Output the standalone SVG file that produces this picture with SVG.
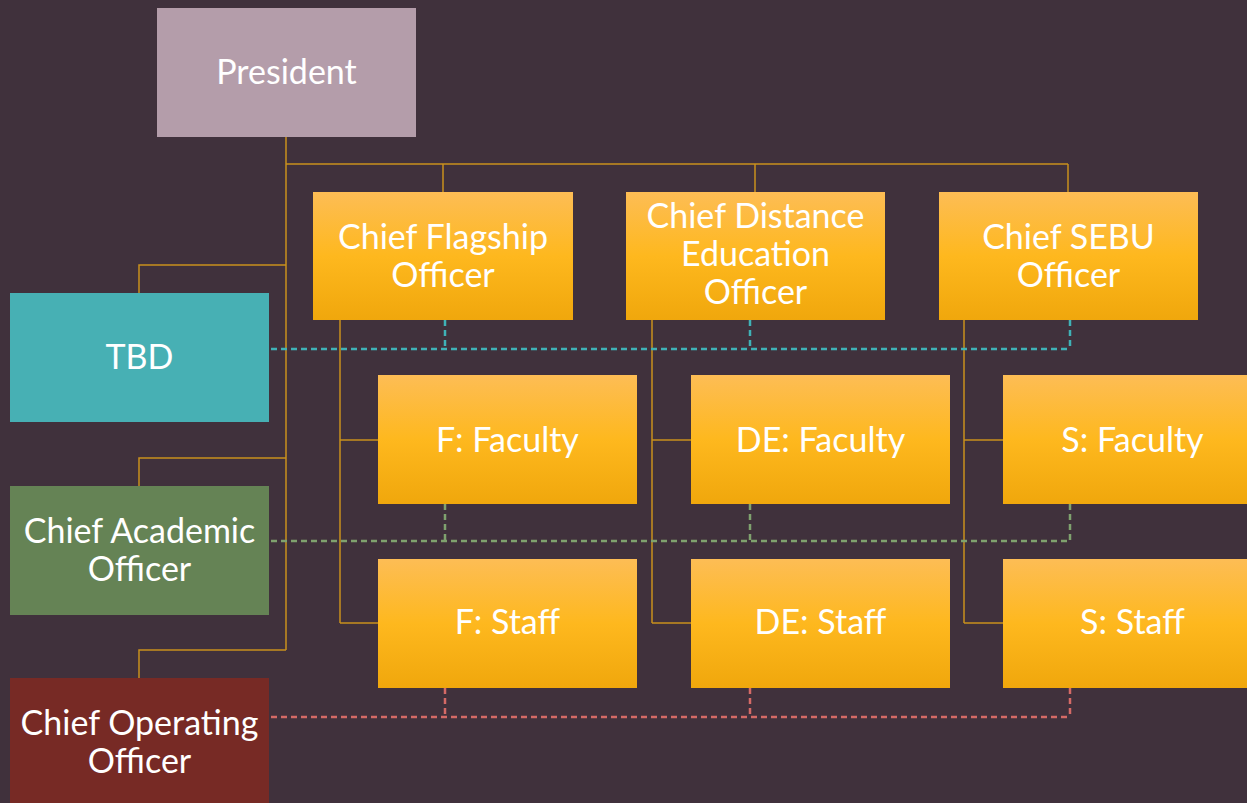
<svg xmlns="http://www.w3.org/2000/svg" width="1247" height="803" viewBox="0 0 1247 803">
  <defs>
    <linearGradient id="gold" x1="0" y1="0" x2="0" y2="1">
      <stop offset="0" stop-color="#FDBD55"/>
      <stop offset="0.5" stop-color="#FEB81E"/>
      <stop offset="1" stop-color="#F0A70C"/>
    </linearGradient>
  </defs>
  <style>
    text { font-family: Lato, "Open Sans", "Liberation Sans", sans-serif; font-size: 34px; fill: #FFFFFF; text-anchor: middle; }
    .solid { fill: none; stroke: #C8901C; stroke-width: 1.5; }
    .dash { fill: none; stroke-width: 2.5; stroke-dasharray: 6 4; }
    .teal { stroke: #3FB2B7; }
    .green { stroke: #7FA26E; }
    .red { stroke: #D46A66; }
    .gold { fill: url(#gold); }
  </style>
  <rect width="1247" height="803" fill="#40313C"/>

  <g id="connectors">
    <!-- reporting lines -->
    <path class="solid" d="M286 137 V650 M286 164 H1068 M443 164 V192 M755 164 V192 M1068 164 V192"/>
    <path class="solid" d="M286 265 H139 V293 M286 458 H139 V486 M286 650 H139 V678"/>
    <path class="solid" d="M340 320 V623 M340 440 H378 M340 623 H378"/>
    <path class="solid" d="M652 320 V623 M652 440 H691 M652 623 H691"/>
    <path class="solid" d="M964 320 V623 M964 440 H1003 M964 623 H1003"/>
    <!-- dotted-line relationships -->
    <path class="dash teal" d="M271 349 H1070 M445 320 V349 M750 320 V349 M1070 320 V349"/>
    <path class="dash green" d="M271 541 H1070 M445 504 V541 M750 504 V541 M1070 504 V541"/>
    <path class="dash red" d="M271 717 H1070 M445 688 V717 M750 688 V717 M1070 688 V717"/>
  </g>

  <g id="president">
    <rect x="157" y="8" width="259" height="129" fill="#B49DAA"/>
    <text x="286.5" y="84">President</text>
  </g>

  <g id="chief-flagship">
    <rect class="gold" x="313" y="192" width="260" height="128"/>
    <text x="443" y="249">Chief Flagship</text>
    <text x="443" y="287">Officer</text>
  </g>
  <g id="chief-distance">
    <rect class="gold" x="626" y="192" width="259" height="128"/>
    <text x="755.5" y="228">Chief Distance</text>
    <text x="755.5" y="266">Education</text>
    <text x="755.5" y="304">Officer</text>
  </g>
  <g id="chief-sebu">
    <rect class="gold" x="939" y="192" width="259" height="128"/>
    <text x="1068.5" y="249">Chief SEBU</text>
    <text x="1068.5" y="287">Officer</text>
  </g>

  <g id="tbd">
    <rect x="10" y="293" width="259" height="129" fill="#47B0B4"/>
    <text x="139.5" y="369">TBD</text>
  </g>
  <g id="chief-academic">
    <rect x="10" y="486" width="259" height="129" fill="#658355"/>
    <text x="139.5" y="543">Chief Academic</text>
    <text x="139.5" y="581">Officer</text>
  </g>
  <g id="chief-operating">
    <rect x="10" y="678" width="259" height="129" fill="#772A25"/>
    <text x="139.5" y="735">Chief Operating</text>
    <text x="139.5" y="773">Officer</text>
  </g>

  <g id="f-faculty">
    <rect class="gold" x="378" y="375" width="259" height="129"/>
    <text x="507.5" y="452">F: Faculty</text>
  </g>
  <g id="de-faculty">
    <rect class="gold" x="691" y="375" width="259" height="129"/>
    <text x="820.5" y="452">DE: Faculty</text>
  </g>
  <g id="s-faculty">
    <rect class="gold" x="1003" y="375" width="259" height="129"/>
    <text x="1132.5" y="452">S: Faculty</text>
  </g>

  <g id="f-staff">
    <rect class="gold" x="378" y="559" width="259" height="129"/>
    <text x="507.5" y="634">F: Staff</text>
  </g>
  <g id="de-staff">
    <rect class="gold" x="691" y="559" width="259" height="129"/>
    <text x="820.5" y="634">DE: Staff</text>
  </g>
  <g id="s-staff">
    <rect class="gold" x="1003" y="559" width="259" height="129"/>
    <text x="1132.5" y="634">S: Staff</text>
  </g>
</svg>
